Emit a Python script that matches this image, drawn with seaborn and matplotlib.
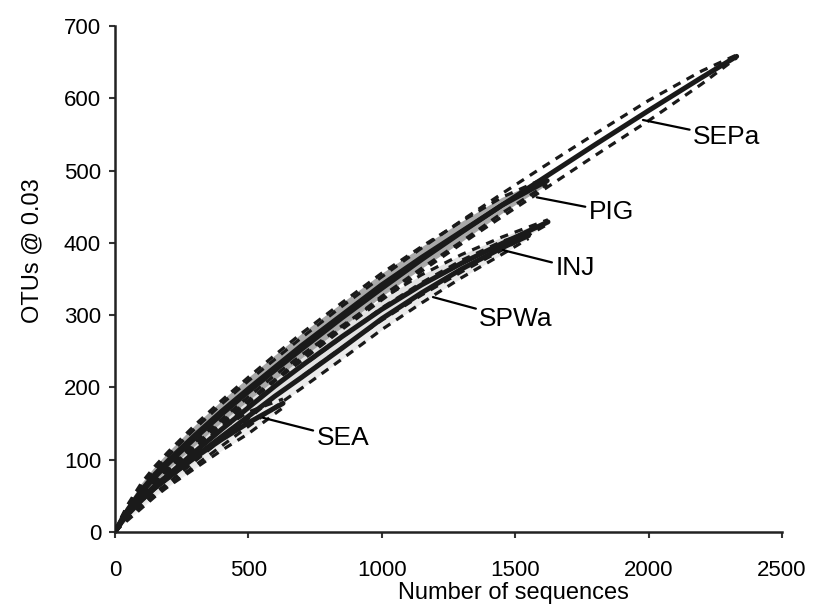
import numpy as np
import pandas as pd
import matplotlib
matplotlib.use("Agg")
import matplotlib.pyplot as plt
import seaborn as sns

# rarefaction curves (sequences vs OTUs @ 0.03)
# *_ci is the half width to the dashed bounds
sepa_x = [0, 25, 50, 100, 150, 200, 300, 400, 500, 600, 700, 850, 1000,
          1150, 1300, 1450, 1600, 1800, 2000, 2200, 2330]
sepa_y = [0, 16, 30, 55, 76, 95, 130, 163, 194, 224, 253, 296, 337,
          377, 415, 452, 488, 536, 583, 629, 658]
sepa_ci = [0, 4, 6, 9, 10, 11, 13, 14, 15, 15, 16, 16, 16,
           16, 16, 16, 16, 15, 14, 9, 2]

pig_x = [0, 25, 50, 100, 150, 200, 300, 400, 500, 600, 700, 850, 1000,
         1150, 1300, 1450, 1620]
pig_y = [0, 17, 32, 58, 80, 99, 134, 167, 198, 228, 258, 300, 342,
         380, 416, 452, 486]
pig_ci = [0, 4, 7, 10, 11, 12, 14, 15, 16, 17, 17, 17, 16,
          15, 14, 11, 5]

inj_x = [0, 25, 50, 100, 150, 200, 300, 400, 500, 600, 700, 850, 1000,
         1150, 1300, 1450, 1623]
inj_y = [0, 15, 27, 47, 64, 79, 111, 142, 172, 202, 230, 270, 308,
         342, 372, 399, 429]
inj_ci = [0, 4, 6, 9, 10, 11, 13, 14, 15, 15, 15, 15, 15,
          14, 12, 9, 3]

spwa_x = [0, 25, 50, 100, 150, 200, 300, 400, 500, 600, 700, 850, 1000,
          1150, 1300, 1450, 1550]
spwa_y = [0, 14, 26, 45, 61, 75, 104, 132, 160, 188, 214, 254, 295,
          331, 364, 393, 410]
spwa_ci = [0, 4, 6, 9, 10, 11, 12, 13, 14, 15, 15, 15, 15,
           14, 12, 9, 4]

sea_x = [0, 25, 50, 100, 150, 200, 300, 400, 500, 630]
sea_y = [0, 14, 25, 44, 61, 76, 103, 128, 151, 178]
sea_ci = [0, 5, 8, 11, 12, 13, 15, 15, 15, 6]

samples = ["SEPa", "PIG", "INJ", "SPWa", "SEA"]
band_colors = {"PIG": "#a8a8a8", "INJ": "#e2e2e2",
               "SPWa": "#ebebeb", "SEA": "#efefef"}

# label text position and the point the leader line touches
label_pos = {"SEPa": (2166, 546), "PIG": (1775, 443), "INJ": (1650, 365),
             "SPWa": (1365, 294), "SEA": (755, 130)}
label_tip = {"SEPa": (1979, 570), "PIG": (1581, 463), "INJ": (1454, 390),
             "SPWa": (1192, 325), "SEA": (555, 158)}

curves = {
    "SEPa": (sepa_x, sepa_y, sepa_ci),
    "PIG": (pig_x, pig_y, pig_ci),
    "INJ": (inj_x, inj_y, inj_ci),
    "SPWa": (spwa_x, spwa_y, spwa_ci),
    "SEA": (sea_x, sea_y, sea_ci),
}

frames = []
for name, (xs, ys, ci) in curves.items():
    d = pd.DataFrame({"seqs": xs, "otus": ys, "ci": ci})
    d["lo"] = d["otus"] - d["ci"]
    d["hi"] = d["otus"] + d["ci"]
    d["sample"] = name
    frames.append(d)
df = pd.concat(frames, ignore_index=True)

sns.set_style("ticks")
plt.rcParams["font.family"] = ["Liberation Sans", "DejaVu Sans"]
plt.rcParams["text.color"] = "black"
plt.rcParams["axes.labelcolor"] = "black"

fig = plt.figure(figsize=(8.15, 6.11), dpi=100)
ax = fig.add_axes([0.141, 0.1293, 0.8185, 0.8281])

# confidence bands
for name in ["SEA", "SPWa", "INJ", "PIG"]:
    d = df[df["sample"] == name]
    ax.fill_between(d["seqs"], d["lo"], d["hi"], color=band_colors[name],
                    lw=0, zorder=1)

# dashed CI bounds
for name in samples:
    d = df[df["sample"] == name]
    for col in ["lo", "hi"]:
        sns.lineplot(data=d, x="seqs", y=col, ax=ax, color="#1a1a1a",
                     lw=2.3, estimator=None, sort=False, zorder=2,
                     linestyle=(0, (2.6, 2.2)))

# mean curves
for name in samples:
    d = df[df["sample"] == name]
    sns.lineplot(data=d, x="seqs", y="otus", ax=ax, color="#1a1a1a",
                 lw=3.6, estimator=None, sort=False, zorder=3,
                 solid_capstyle="round", solid_joinstyle="round")

for name in samples:
    ax.annotate(name, xy=label_tip[name], xytext=label_pos[name],
                fontsize=19, ha="left", va="center",
                arrowprops=dict(arrowstyle="-", color="black", lw=1.6,
                                shrinkA=0, shrinkB=0))

ax.set_xlim(0, 2500)
ax.set_ylim(0, 700)
ax.set_xticks(np.arange(0, 2501, 500))
ax.set_yticks(np.arange(0, 701, 100))
ax.set_xlabel("Number of sequences", fontsize=17)
ax.set_ylabel("OTUs @ 0.03", fontsize=17)
ax.xaxis.set_label_coords(0.597, -0.098)
ax.yaxis.set_label_coords(-0.107, 0.557)
ax.tick_params(labelsize=16, length=4, width=1.5, color="#333333",
               labelcolor="black")
ax.tick_params(axis="x", pad=16)
ax.tick_params(axis="y", pad=6)
for s in ["left", "bottom"]:
    ax.spines[s].set_linewidth(1.8)
    ax.spines[s].set_color("#222222")
sns.despine(ax=ax)

fig.savefig("out.png", dpi=100)
